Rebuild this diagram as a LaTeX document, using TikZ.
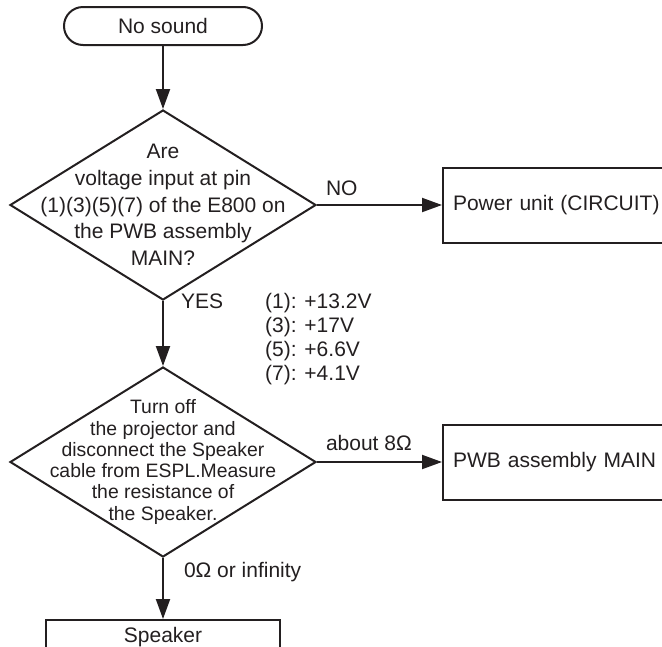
\documentclass[tikz,border=0pt]{standalone}
\usepackage{fontspec}
\setmainfont{Liberation Sans}
\usepackage{tikz}
\usetikzlibrary{shapes.geometric, positioning, arrows.meta}
\definecolor{inkGray}{RGB}{35,31,32}
\tikzset{
  chkStart/.style={rectangle, rounded corners=19pt, minimum width=198pt, minimum height=38pt, draw=inkGray, line width=2pt, text=inkGray, font=\fontsize{21}{25}\selectfont},
  chkBox/.style={rectangle, minimum height=75pt, draw=inkGray, line width=2pt, text=inkGray, font=\fontsize{21}{25}\selectfont},
  chkDec/.style={diamond, minimum width=306pt, minimum height=190pt, draw=inkGray, line width=2pt, inner sep=0pt},
  chkText/.style={align=center, inner sep=0pt, text=inkGray},
  chkNote/.style={align=left, inner sep=0pt, text=inkGray, font=\fontsize{21}{24}\selectfont},
  chkArr/.style={line width=2pt, draw=inkGray, -{Triangle[length=20pt, width=14pt]}, text=inkGray, font=\fontsize{21}{25}\selectfont},
}
\begin{document}
\begin{tikzpicture}
\useasboundingbox (0,0) rectangle (662pt,-646pt);
\clip (0,0) rectangle (662pt,-646pt);
\node (start) [chkStart] at (163pt,-26pt) {No sound};
\node (q1) [chkDec, below=63pt of start] {};
\node (q1t) [chkText, font=\fontsize{21}{26.7}\selectfont] at (q1) {Are\\voltage input at pin\\(1)(3)(5)(7) of the E800 on\\the PWB assembly\\MAIN?};
\node (pwr) [chkBox, right=125pt of q1, text width=240pt, align=left, inner xsep=10pt] {Power unit (CIRCUIT)};
\node (q2) [chkDec, below=65pt of q1] {};
\node (q2t) [chkText, font=\fontsize{19.4}{21.3}\selectfont] at (q2) {Turn off\\the projector and\\disconnect the Speaker\\cable from ESPL.Measure\\the resistance of\\the Speaker.};
\node (main) [chkBox, right=125pt of q2, text width=240pt, align=left, inner xsep=10pt] {PWB assembly MAIN};
\node (spk) [chkBox, below=61pt of q2, minimum width=234pt, minimum height=35pt] {Speaker};
\node (volt) [chkNote, anchor=north west] at (265pt,-293pt) {(1): +13.2V\\(3): +17V\\(5): +6.6V\\(7): +4.1V};

\draw [chkArr] (start) -- (q1);
\draw [chkArr] (q1.east) -- node[above right, pos=0, inner sep=8pt]{NO} (pwr.west);
\draw [chkArr] (q1) -- node[anchor=west, pos=0, inner sep=0pt, xshift=17pt]{YES} (q2);
\draw [chkArr] (q2.east) -- node[above right, pos=0, inner sep=8pt, yshift=2pt]{about 8Ω} (main.west);
\draw [chkArr] (q2) -- node[anchor=west, pos=0.23, inner sep=0pt, xshift=20pt]{0Ω or infinity} (spk);
\end{tikzpicture}
\end{document}
